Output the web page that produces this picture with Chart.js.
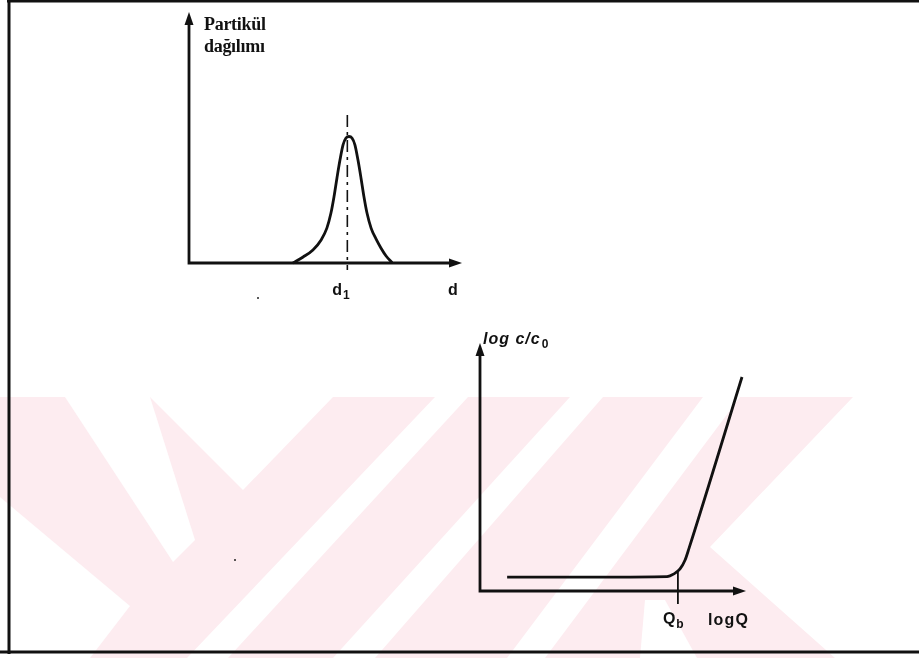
<!DOCTYPE html>
<html><head><meta charset="utf-8">
<script src="https://cdn.jsdelivr.net/npm/chart.js@4.4.0/dist/chart.umd.min.js"></script>
<style>
html,body{margin:0;padding:0;background:#fff;}
#wrap{position:relative;width:919px;height:658px;overflow:hidden;background:#fff;}
#wrap svg,#wrap canvas{position:absolute;left:0;top:0;}
</style></head><body>
<div id="wrap">
<svg width="919" height="658" xmlns="http://www.w3.org/2000/svg">
  <polygon points="0,397 853,397 710,547 835,658 0,658" fill="#fdecf0"/>
  <g fill="#ffffff">
    <polygon points="0,497 130,606 90,658 0,658"/>
    <polygon points="65,397 150,397 195,540 173,562"/>
    <polygon points="150,397 333,397 243,490"/>
    <polygon points="435,397 468,397 228,658 187,658"/>
    <polygon points="570,397 603,397 375,658 333,658"/>
    <polygon points="703,397 740,397 545,658 507,658"/>
    <polygon points="645,600 665,600 697,658 640,658"/>
  </g>
  <g stroke="#111" fill="none">
    <line x1="9" y1="0" x2="9" y2="654" stroke-width="3"/>
    <line x1="7" y1="1.3" x2="919" y2="1.3" stroke-width="2.6"/>
    <line x1="0" y1="652" x2="919" y2="652" stroke-width="3"/>
  </g>
  <g fill="#222">
    <circle cx="258" cy="298" r="1"/>
    <circle cx="235" cy="560" r="1"/>
  </g>
</svg>
<canvas id="c1" width="919" height="658"></canvas>
<canvas id="c2" width="919" height="658"></canvas>
</div>
<script>
// ---- Chart 1: particle size distribution ----
const distD     = [38.1, 41.8, 45.4, 48.4, 50.5, 52.0, 53.1, 54.2, 55.3, 56.4, 57.5, 58.6, 59.7, 60.8, 61.9, 63.0, 64.1, 65.2, 66.7, 68.5, 70.3, 72.2, 74.4];
const distValue = [0,    2.4,  5.2,  9.2,  13.9, 19.9, 26.3, 33.9, 41.0, 47.0, 49.8, 50.4, 49.8, 47.0, 41.0, 33.9, 26.3, 19.9, 13.9, 9.6,  6.0,  2.8,  0.2];
const d1Value = 58.0;
const d1LineTop = 59;
const d1LineBottom = -2.8;
const chart1YTitle = ['Partikül', 'dağılımı'];
const chart1Tick = ['d', '1'];
const chart1XTitle = 'd';

// ---- Chart 2: breakthrough curve ----
const breakLogQ = [10.2, 45.1, 70.3, 72.9, 75.2, 77.1, 78.6, 98.5];
const breakLogC = [5.6,  5.6,  5.8,  6.9,  8.9,  12.5, 17.3, 86.3];
const qbValue = 74.4;
const qbLineTop = 7.7;
const qbLineBottom = -5.2;
const chart2YTitle = ['log c/c', '0'];
const chart2Tick = ['Q', 'b'];
const chart2XTitle = 'logQ';

const INK = '#111111';

function arrowHead(ctx, x, y, dir) {
  ctx.beginPath();
  if (dir === 'up') {
    ctx.moveTo(x, y); ctx.lineTo(x - 4.5, y + 13); ctx.lineTo(x + 4.5, y + 13);
  } else {
    ctx.moveTo(x, y); ctx.lineTo(x - 13, y - 4.5); ctx.lineTo(x - 13, y + 4.5);
  }
  ctx.closePath(); ctx.fill();
}
function subText(ctx, main, sub, x, y, size, style, spacing) {
  ctx.font = style + ' ' + size + 'px "Liberation Sans", Arial, sans-serif';
  ctx.letterSpacing = (spacing || 0) + 'px';
  ctx.fillText(main, x, y);
  const w = ctx.measureText(main).width;
  ctx.font = 'bold ' + Math.round(size * 0.72) + 'px "Liberation Sans", Arial, sans-serif';
  ctx.letterSpacing = '0px';
  ctx.fillText(sub, x + w + 1, y + size * 0.28);
}

const axesPlugin = {
  id: 'axesArrows',
  beforeDatasetsDraw(chart, args, opts) {
    const ctx = chart.ctx, xs = chart.scales.x, ys = chart.scales.y;
    const x0 = xs.getPixelForValue(0), x1 = xs.getPixelForValue(100);
    const y0 = ys.getPixelForValue(0), y1 = ys.getPixelForValue(100);
    ctx.save();
    ctx.strokeStyle = INK; ctx.fillStyle = INK; ctx.lineWidth = 2.8; ctx.lineCap = 'square';
    ctx.beginPath();
    ctx.moveTo(x0, y1 + 10); ctx.lineTo(x0, y0); ctx.lineTo(x1 - 10, y0);
    ctx.stroke();
    arrowHead(ctx, x0, y1, 'up');
    arrowHead(ctx, x1, y0, 'right');
    ctx.textBaseline = 'alphabetic'; ctx.textAlign = 'left';
    if (opts.kind === 1) {
      ctx.font = 'bold 18px "Liberation Serif", "Times New Roman", serif';
      ctx.letterSpacing = '-0.3px';
      ctx.fillText(chart1YTitle[0], x0 + 15, 30);
      ctx.fillText(chart1YTitle[1], x0 + 15, 52);
      subText(ctx, chart1Tick[0], chart1Tick[1], xs.getPixelForValue(d1Value) - 15, y0 + 32, 16, 'bold', 0);
      ctx.font = 'bold 16px "Liberation Sans", Arial, sans-serif';
      ctx.letterSpacing = '0px';
      ctx.fillText(chart1XTitle, x1 - 14, y0 + 32);
    } else {
      subText(ctx, chart2YTitle[0], chart2YTitle[1], x0 + 3, y1 + 1, 16, 'italic bold', 1);
      subText(ctx, chart2Tick[0], chart2Tick[1], xs.getPixelForValue(qbValue) - 15, y0 + 33, 16, 'bold', 0);
      ctx.font = 'bold 16px "Liberation Sans", Arial, sans-serif';
      ctx.letterSpacing = '1.2px';
      ctx.fillText(chart2XTitle, xs.getPixelForValue(qbValue) + 30, y0 + 34);
    }
    ctx.restore();
  }
};

function baseOptions(pad, kind) {
  return {
    responsive: false, animation: false, devicePixelRatio: 1,
    layout: { padding: pad },
    plugins: { legend: { display: false }, tooltip: { enabled: false }, axesArrows: { kind: kind } },
    elements: { point: { radius: 0 } },
    scales: {
      x: { type: 'linear', min: 0, max: 100, display: false },
      y: { type: 'linear', min: 0, max: 100, display: false }
    }
  };
}

new Chart(document.getElementById('c1'), {
  type: 'line',
  data: { datasets: [
    { data: distD.map((d, i) => ({ x: d, y: distValue[i] })), borderColor: INK, borderWidth: 2.8,
      cubicInterpolationMode: 'monotone', fill: false, clip: false },
    { data: [{ x: d1Value, y: d1LineTop }, { x: d1Value, y: d1LineBottom }], borderColor: INK,
      borderWidth: 1.6, borderDash: [12, 5, 3, 5], fill: false, clip: false }
  ] },
  options: baseOptions({ left: 189, right: 457, top: 12, bottom: 395 }, 1),
  plugins: [axesPlugin]
});

new Chart(document.getElementById('c2'), {
  type: 'line',
  data: { datasets: [
    { data: breakLogQ.map((q, i) => ({ x: q, y: breakLogC[i] })), borderColor: INK, borderWidth: 2.8,
      cubicInterpolationMode: 'monotone', fill: false, clip: false },
    { data: [{ x: qbValue, y: qbLineTop }, { x: qbValue, y: qbLineBottom }], borderColor: INK,
      borderWidth: 1.8, fill: false, clip: false }
  ] },
  options: baseOptions({ left: 480, right: 173, top: 343, bottom: 67 }, 2),
  plugins: [axesPlugin]
});
</script>
</body></html>
